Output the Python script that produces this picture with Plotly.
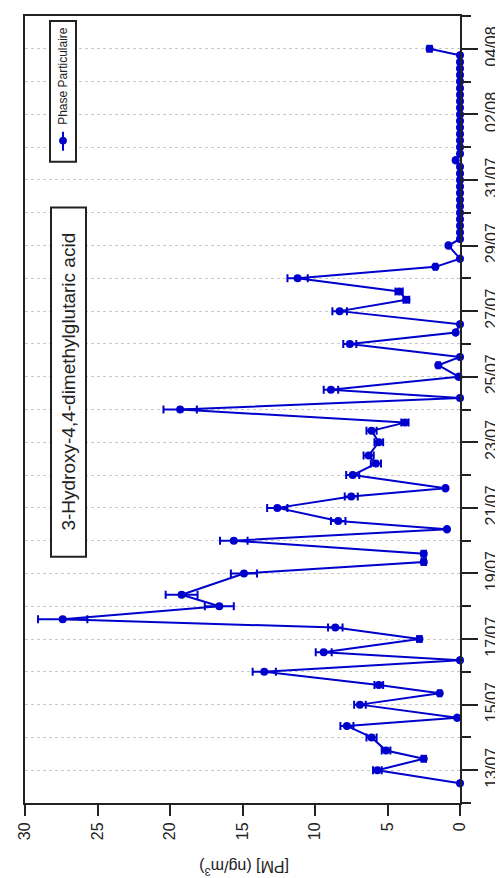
import pandas as pd
import plotly.graph_objects as go

# Sampling times, as day-of-month counted from 1 July (32 = 1 Aug)
sample_day = [12.6, 13.0, 13.35, 13.6, 14.0, 14.35, 14.6, 15.0, 15.35, 15.6,
              16.0, 16.35, 16.6, 17.0, 17.35, 17.6, 18.0, 18.35, 19.0, 19.35,
              19.6, 20.0, 20.35, 20.6, 21.0, 21.35, 21.6, 22.0, 22.35, 22.6,
              23.0, 23.35, 23.6, 24.0, 24.35, 24.6, 25.0, 25.35, 25.6, 26.0,
              26.35, 26.6, 27.0, 27.35, 27.6, 28.0, 28.35, 28.6, 29.0,
              29.2, 29.4, 29.6, 29.8, 30.0, 30.2, 30.4, 30.6, 30.8, 31.0,
              31.2, 31.4, 31.6, 31.8, 32.0, 32.2, 32.4, 32.6, 32.8, 33.0,
              33.2, 33.4, 33.6, 33.8, 34.0, 34.2, 34.4, 34.6, 34.8, 35.0]
pm_values = [0.0, 5.7, 2.5, 5.1, 6.1, 7.8, 0.2, 6.9, 1.4, 5.6,
             13.5, 0.0, 9.4, 2.8, 8.6, 27.4, 16.6, 19.2, 14.9, 2.5,
             2.5, 15.6, 0.9, 8.4, 12.6, 7.5, 1.0, 7.4, 5.8, 6.3,
             5.6, 6.1, 3.8, 19.3, 0.0, 8.9, 0.1, 1.5, 0.0, 7.6,
             0.3, 0.0, 8.3, 3.7, 4.2, 11.2, 1.7, 0.0, 0.8,
             0.0, 0.0, 0.0, 0.0, 0.0, 0.0, 0.0, 0.0, 0.0, 0.0,
             0.0, 0.0, 0.3, 0.0, 0.0, 0.0, 0.0, 0.0, 0.0, 0.0,
             0.0, 0.0, 0.0, 0.0, 0.0, 0.0, 0.0, 0.0, 0.0, 2.1]
pm_errors = [0.0, 0.3, 0.15, 0.3, 0.35, 0.45, 0.02, 0.4, 0.1, 0.3,
             0.8, 0.0, 0.55, 0.15, 0.5, 1.7, 1.0, 1.1, 0.9, 0.15,
             0.15, 0.95, 0.05, 0.5, 0.7, 0.45, 0.06, 0.45, 0.35, 0.35,
             0.3, 0.35, 0.25, 1.15, 0.0, 0.5, 0.01, 0.1, 0.0, 0.45,
             0.02, 0.0, 0.5, 0.2, 0.25, 0.7, 0.1, 0.0, 0.05,
             0.0, 0.0, 0.0, 0.0, 0.0, 0.0, 0.0, 0.0, 0.0, 0.0,
             0.0, 0.0, 0.02, 0.0, 0.0, 0.0, 0.0, 0.0, 0.0, 0.0,
             0.0, 0.0, 0.0, 0.0, 0.0, 0.0, 0.0, 0.0, 0.0, 0.15]
pm_ticks = [0, 5, 10, 15, 20, 25, 30]
series_name = "Phase Particulaire"
compound = "3-Hydroxy-4,4-dimethylglutaric acid"
axis_title = "[PM] (ng/m<sup>3</sup>)"

base = pd.Timestamp("2013-07-01")
times = [base + pd.Timedelta(days=d - 1) for d in sample_day]

BLUE = "#0000CD"
FONT = "Liberation Sans, Arial, sans-serif"
W, H = 503, 878
ML, MR, MT, MB = 17, 51, 6, 83
PW, PH = W - ML - MR, H - MT - MB


def px(x):
    return (x - ML) / PW


def py(y):
    return 1 - (y - MT) / PH


fig = go.Figure()
fig.add_trace(go.Scatter(
    x=pm_values, y=times, mode="lines+markers", name=series_name,
    line=dict(color=BLUE, width=2),
    marker=dict(color=BLUE, size=8),
    error_x=dict(type="data", array=pm_errors, color=BLUE, thickness=2, width=4),
    showlegend=False, cliponaxis=False,
))

fig.update_layout(
    width=W, height=H,
    margin=dict(l=ML, r=MR, t=MT, b=MB),
    paper_bgcolor="white", plot_bgcolor="white",
    font=dict(family=FONT, color="#222", size=16),
    xaxis=dict(
        range=[30, 0], tickvals=pm_ticks, ticks="outside", ticklen=11, tickwidth=2,
        tickcolor="#222", tickangle=-90, showgrid=False, zeroline=False,
        showline=True, linecolor="#222", linewidth=2, mirror=True,
        tickfont=dict(size=16),
    ),
    yaxis=dict(
        type="date", range=["2013-07-12", "2013-08-05"], side="right",
        tick0="2013-07-13", dtick=2 * 86400000, tickformat="%d/%m",
        ticks="outside", ticklen=16, tickwidth=2, tickcolor="#222", tickangle=-90,
        showgrid=True, gridcolor="#c8c8c8", griddash="dot", gridwidth=1,
        minor=dict(dtick=86400000, tick0="2013-07-12", ticks="outside", ticklen=9,
                   tickwidth=2, tickcolor="#222", showgrid=True,
                   gridcolor="#c8c8c8", griddash="dot", gridwidth=1),
        showline=True, linecolor="#222", linewidth=2, mirror=True, zeroline=False,
        tickfont=dict(size=16),
    ),
)

shapes = [
    # legend box
    dict(type="rect", xref="paper", yref="paper", x0=px(42), x1=px(68),
         y0=py(152), y1=py(11), line=dict(color="#222", width=2), fillcolor="white"),
    dict(type="line", xref="paper", yref="paper", x0=px(55), x1=px(55),
         y0=py(141), y1=py(122), line=dict(color=BLUE, width=2)),
    dict(type="circle", xref="paper", yref="paper", x0=px(51.5), x1=px(58.5),
         y0=py(134.5), y1=py(127.5), line=dict(color=BLUE, width=1), fillcolor=BLUE),
    # compound box
    dict(type="rect", xref="paper", yref="paper", x0=px(43), x1=px(78),
         y0=py(548), y1=py(198), line=dict(color="#222", width=2), fillcolor="white"),
]
fig.update_layout(shapes=shapes)

fig.add_annotation(text=series_name, xref="paper", yref="paper", x=px(55), y=py(66),
                   showarrow=False, textangle=-90, font=dict(size=12, color="#222"),
                   xanchor="center", yanchor="middle")
fig.add_annotation(text=compound, xref="paper", yref="paper", x=px(60.5), y=py(373),
                   showarrow=False, textangle=-90, font=dict(size=19, color="#222"),
                   xanchor="center", yanchor="middle")
fig.add_annotation(text=axis_title, xref="paper", yref="paper", x=px(236), y=py(860),
                   showarrow=False, textangle=180, font=dict(size=16, color="#222"),
                   xanchor="center", yanchor="middle")

fig.write_html("out.html")
